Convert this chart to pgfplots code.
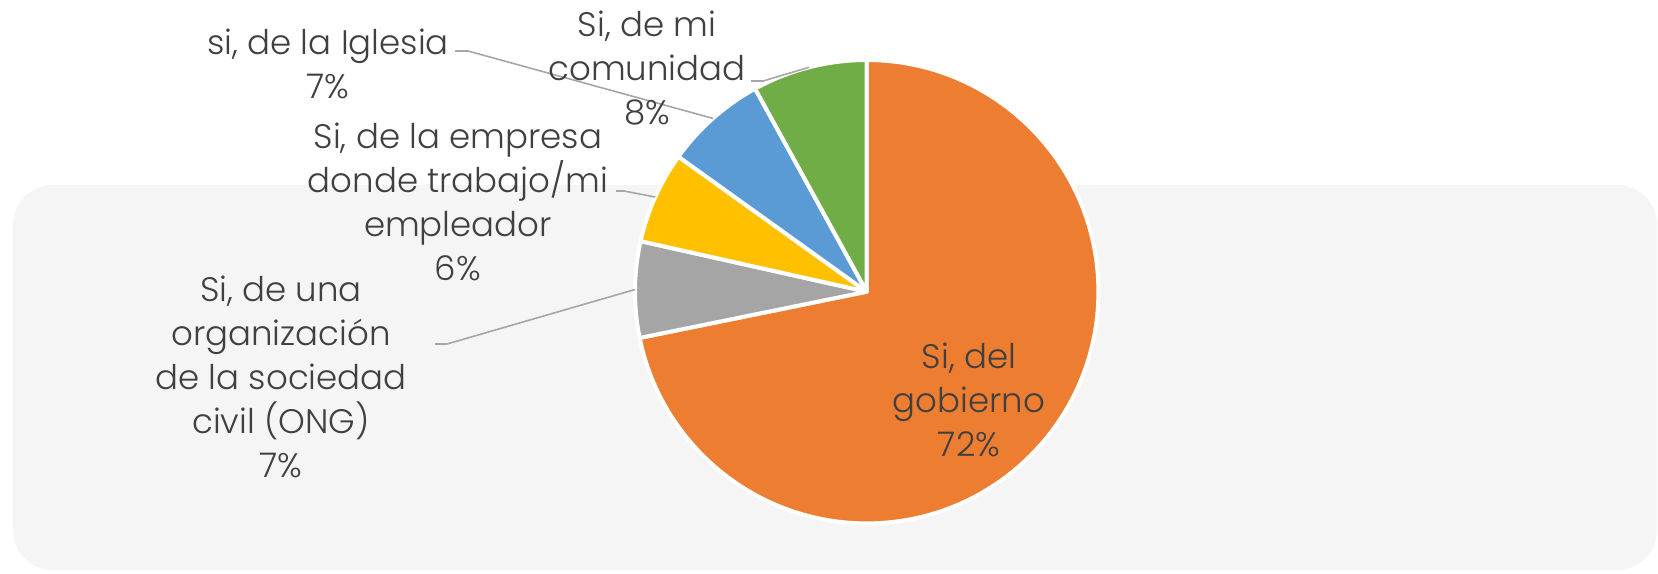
\documentclass[border=0pt]{standalone}
\usepackage{pgfplots}
\usepackage{pgfplotstable}
\pgfplotsset{compat=1.18}
\usepackage{fontspec}
\setmainfont{Poppins Light}
\definecolor{slice0}{HTML}{ED7D31}
\definecolor{slice1}{HTML}{A5A5A5}
\definecolor{slice2}{HTML}{FFC000}
\definecolor{slice3}{HTML}{5B9BD5}
\definecolor{slice4}{HTML}{70AD47}
\definecolor{txt}{HTML}{404040}
\definecolor{lead}{HTML}{A6A6A6}
\definecolor{bg}{HTML}{F5F5F5}

% share of each answer (%), clockwise from 12 o'clock
\pgfplotstableread{
value
71.8
6.7
6.4
7.1
8.0
}\piedata

\def\cum{90}
\foreach \i in {0,...,4}{%
  \pgfplotstablegetelem{\i}{value}\of\piedata
  \pgfmathsetmacro\vv{\pgfplotsretval}%
  \pgfmathsetmacro\endang{\cum-3.6*\vv}%
  \pgfmathsetmacro\midang{\cum-1.8*\vv}%
  \expandafter\xdef\csname sA\i\endcsname{\cum}%
  \expandafter\xdef\csname eA\i\endcsname{\endang}%
  \expandafter\xdef\csname mA\i\endcsname{\midang}%
  \xdef\cum{\endang}%
}
\def\R{115.85pt}
\tikzset{lbl/.style={font=\fontsize{17}{22}\selectfont, text=txt, align=center, inner sep=0pt}}

\begin{document}
\begin{tikzpicture}
\begin{axis}[
  width=829pt, height=286.5pt, scale only axis,
  xmin=0, xmax=1658, ymin=0, ymax=573, y dir=reverse,
  hide axis, clip=false,
]
\path (axis cs:0,0) rectangle (axis cs:1658,573);
\fill[bg, rounded corners=20pt] (axis cs:13,185) rectangle (axis cs:1657,570);
\pgfplotsinvokeforeach{0,...,4}{
  \filldraw[fill=slice#1, draw=white, line width=2pt, line join=round]
    (axis cs:866.7,291.7) -- ++(\csname sA#1\endcsname:\R)
    arc[start angle=\csname sA#1\endcsname, end angle=\csname eA#1\endcsname, radius=\R] -- cycle;
}
% leader lines
\draw[lead, line width=0.8pt] (axis cs:866.7,291.7) ++(\csname mA4\endcsname:\R) -- (axis cs:763,81) -- (axis cs:751,81);
\draw[lead, line width=0.8pt] (axis cs:866.7,291.7) ++(\csname mA3\endcsname:\R) -- (axis cs:468,51) -- (axis cs:455,51);
\draw[lead, line width=0.8pt] (axis cs:866.7,291.7) ++(\csname mA2\endcsname:\R) -- (axis cs:624,191) -- (axis cs:616,191);
\draw[lead, line width=0.8pt] (axis cs:866.7,291.7) ++(\csname mA1\endcsname:\R) -- (axis cs:447,344) -- (axis cs:435,344);
% labels
\node[lbl] at (axis cs:969,400) {Si, del\\gobierno\\72\%};
\node[lbl] at (axis cs:281,377) {Si, de una\\organización\\de la sociedad\\civil (ONG)\\7\%};
\node[lbl] at (axis cs:458,202) {Si, de la empresa\\donde trabajo/mi\\empleador\\6\%};
\node[lbl] at (axis cs:328,64) {si, de la Iglesia\\7\%};
\node[lbl] at (axis cs:647,68) {Si, de mi\\comunidad\\8\%};
\end{axis}
\end{tikzpicture}
\end{document}
